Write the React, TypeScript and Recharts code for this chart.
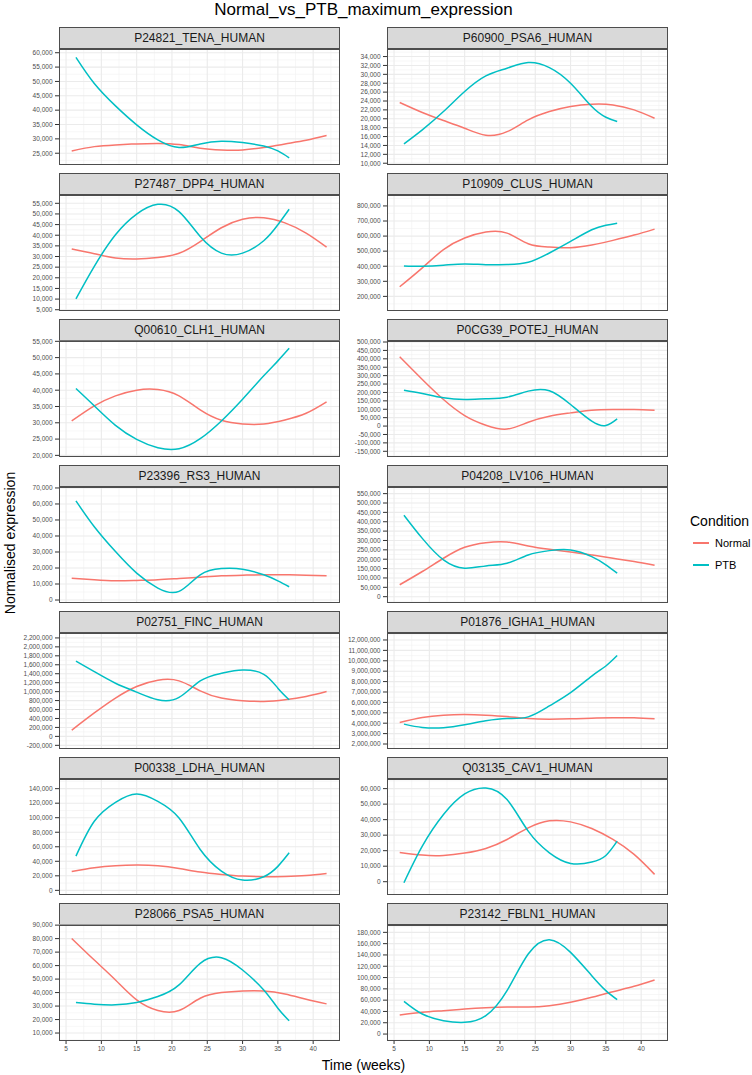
import React from 'react';
import { LineChart, Line, XAxis, YAxis, CartesianGrid } from 'recharts';

const NORMAL_COLOR = '#F8766D';
const PTB_COLOR = '#00BFC4';
const FONT = '"Liberation Sans", Arial, Helvetica, sans-serif';

// sampling weeks
const NORMAL_WEEKS = [5.8, 9, 12, 15, 18, 21, 24, 27, 30, 33, 36, 39, 41.9];
const PTB_WEEKS = [6.4, 9, 12, 15, 18, 21, 24, 27, 30, 33, 35, 36.6];
const X_TICKS = [5, 10, 15, 20, 25, 30, 35, 40];
const X_DOMAIN = [4.0, 43.8];

const TENA_NORMAL = [25800, 27300, 27900, 28250, 28400, 28000, 26750, 26150, 26150, 27000, 28250, 29500, 31150];
const TENA_PTB = [58400, 49300, 41500, 34900, 29650, 27000, 28250, 29200, 28700, 27550, 25800, 23400];
const TENA_TICKS = [25000, 30000, 35000, 40000, 45000, 50000, 55000, 60000];

const PSA6_NORMAL = [23650, 21400, 19600, 17875, 16300, 17100, 19750, 21625, 22750, 23275, 23125, 22000, 20125];
const PSA6_PTB = [14350, 17500, 21625, 26125, 29650, 31375, 32650, 31525, 28000, 22750, 20350, 19375];
const PSA6_TICKS = [10000, 12000, 14000, 16000, 18000, 20000, 22000, 24000, 26000, 28000, 30000, 32000, 34000];

const DPP4_NORMAL = [33500, 31300, 29300, 28800, 29500, 31500, 37000, 43500, 47500, 48200, 45800, 41000, 34400];
const DPP4_PTB = [10100, 25400, 40200, 49900, 54500, 51100, 39400, 31600, 31600, 37400, 44900, 52200];
const DPP4_TICKS = [5000, 10000, 15000, 20000, 25000, 30000, 35000, 40000, 45000, 50000, 55000];

const CLUS_NORMAL = [263700, 389000, 509900, 586800, 626400, 619800, 549500, 527500, 523000, 540700, 571400, 606600, 646200];
const CLUS_PTB = [402200, 400000, 406600, 415400, 410000, 411000, 426400, 487900, 564800, 641800, 672000, 685700];
const CLUS_TICKS = [200000, 300000, 400000, 500000, 600000, 700000, 800000];

const CLH1_NORMAL = [30565, 35200, 38260, 40010, 40200, 38260, 33950, 30770, 29640, 29640, 30870, 32920, 36420];
const CLH1_PTB = [40520, 35200, 29230, 24920, 22350, 22040, 25120, 30560, 37230, 44420, 49000, 52840];
const CLH1_TICKS = [20000, 25000, 30000, 35000, 40000, 45000, 50000, 55000];

const POTEJ_NORMAL = [412500, 277300, 158000, 62600, 5000, -18000, 22900, 58600, 78500, 94400, 98400, 98400, 94400];
const POTEJ_PTB = [213700, 193800, 168000, 158000, 162000, 172000, 207800, 210000, 128200, 28900, 3000, 42700];
const POTEJ_TICKS = [-150000, -100000, -50000, 0, 50000, 100000, 150000, 200000, 250000, 300000, 350000, 400000, 450000, 500000];

const RS3_NORMAL = [13670, 12640, 12000, 12220, 12640, 13470, 14300, 15120, 15540, 15750, 15750, 15540, 15120];
const RS3_PTB = [61920, 45770, 30240, 16780, 7460, 5390, 15740, 19680, 19270, 15740, 12000, 8290];
const RS3_TICKS = [0, 10000, 20000, 30000, 40000, 50000, 60000, 70000];

const LV106_NORMAL = [63600, 134400, 205100, 263500, 288200, 291800, 270600, 252900, 238700, 222800, 205100, 187400, 168000];
const LV106_PTB = [435000, 311200, 196300, 152000, 164400, 178600, 222800, 245800, 249300, 213900, 170000, 125500];
const LV106_TICKS = [0, 50000, 100000, 150000, 200000, 250000, 300000, 350000, 400000, 450000, 500000, 550000];

const FINC_NORMAL = [139400, 523500, 855800, 1114300, 1254600, 1239900, 1018300, 855800, 796700, 781900, 819000, 892800, 1003500];
const FINC_PTB = [1683000, 1446700, 1188200, 988800, 818900, 870700, 1239900, 1409800, 1483600, 1387600, 1077400, 818900];
const FINC_TICKS = [-200000, 0, 200000, 400000, 600000, 800000, 1000000, 1200000, 1400000, 1600000, 1800000, 2000000, 2200000];

const IGHA1_NORMAL = [4070000, 4550000, 4770000, 4830000, 4770000, 4640000, 4450000, 4390000, 4420000, 4480000, 4520000, 4520000, 4420000];
const IGHA1_PTB = [3910000, 3590000, 3560000, 3850000, 4230000, 4450000, 4610000, 5660000, 6940000, 8530000, 9500000, 10500000];
const IGHA1_TICKS = [2000000, 3000000, 4000000, 5000000, 6000000, 7000000, 8000000, 9000000, 10000000, 11000000, 12000000];

const LDHA_NORMAL = [26070, 31100, 33850, 34770, 33850, 30200, 25160, 21950, 19660, 18750, 19200, 20580, 23330];
const LDHA_PTB = [47100, 95160, 121240, 132680, 122600, 99730, 56270, 26530, 14170, 18750, 33000, 51700];
const LDHA_TICKS = [0, 20000, 40000, 60000, 80000, 100000, 120000, 140000];

const CAV1_NORMAL = [18860, 17150, 16930, 18430, 21430, 27220, 34720, 39220, 38570, 34290, 27220, 17570, 4720];
const CAV1_PTB = [-640, 22930, 43290, 56570, 60430, 52930, 32570, 18640, 11790, 12640, 16930, 26140];
const CAV1_TICKS = [0, 10000, 20000, 30000, 40000, 50000, 60000];

const PSA5_NORMAL = [80150, 64140, 49360, 34580, 26700, 26700, 35810, 40000, 41230, 41230, 39010, 35070, 31630];
const PSA5_PTB = [32610, 31380, 30890, 32610, 37040, 45670, 61670, 65860, 56750, 41970, 28420, 19060];
const PSA5_TICKS = [10000, 20000, 30000, 40000, 50000, 60000, 70000, 80000, 90000];

const FBLN1_NORMAL = [33690, 38410, 41360, 44310, 46670, 47850, 47850, 50210, 56110, 64960, 74990, 84430, 95630];
const FBLN1_PTB = [57870, 35450, 23660, 20710, 32510, 76700, 141650, 167020, 144600, 103300, 76770, 60830];
const FBLN1_TICKS = [0, 20000, 40000, 60000, 80000, 100000, 120000, 140000, 160000, 180000];

const PANELS = [
  { name: 'P24821_TENA_HUMAN', normal: TENA_NORMAL, ptb: TENA_PTB, ticks: TENA_TICKS, domain: [20900, 61300] },
  { name: 'P60900_PSA6_HUMAN', normal: PSA6_NORMAL, ptb: PSA6_PTB, ticks: PSA6_TICKS, domain: [9600, 35700] },
  { name: 'P27487_DPP4_HUMAN', normal: DPP4_NORMAL, ptb: DPP4_PTB, ticks: DPP4_TICKS, domain: [4400, 58900] },
  { name: 'P10909_CLUS_HUMAN', normal: CLUS_NORMAL, ptb: CLUS_PTB, ticks: CLUS_TICKS, domain: [103000, 872500] },
  { name: 'Q00610_CLH1_HUMAN', normal: CLH1_NORMAL, ptb: CLH1_PTB, ticks: CLH1_TICKS, domain: [19500, 55100] },
  { name: 'P0CG39_POTEJ_HUMAN', normal: POTEJ_NORMAL, ptb: POTEJ_PTB, ticks: POTEJ_TICKS, domain: [-184000, 506000] },
  { name: 'P23396_RS3_HUMAN', normal: RS3_NORMAL, ptb: RS3_PTB, ticks: RS3_TICKS, domain: [-1860, 70600] },
  { name: 'P04208_LV106_HUMAN', normal: LV106_NORMAL, ptb: LV106_PTB, ticks: LV106_TICKS, domain: [-33700, 585400] },
  { name: 'P02751_FINC_HUMAN', normal: FINC_NORMAL, ptb: FINC_PTB, ticks: FINC_TICKS, domain: [-282000, 2310000] },
  { name: 'P01876_IGHA1_HUMAN', normal: IGHA1_NORMAL, ptb: IGHA1_PTB, ticks: IGHA1_TICKS, domain: [1520000, 12670000] },
  { name: 'P00338_LDHA_HUMAN', normal: LDHA_NORMAL, ptb: LDHA_PTB, ticks: LDHA_TICKS, domain: [-6400, 153300] },
  { name: 'Q03135_CAV1_HUMAN', normal: CAV1_NORMAL, ptb: CAV1_PTB, ticks: CAV1_TICKS, domain: [-8570, 66200] },
  { name: 'P28066_PSA5_HUMAN', normal: PSA5_NORMAL, ptb: PSA5_PTB, ticks: PSA5_TICKS, domain: [4100, 90100] },
  { name: 'P23142_FBLN1_HUMAN', normal: FBLN1_NORMAL, ptb: FBLN1_PTB, ticks: FBLN1_TICKS, domain: [-12300, 193000] },
];

const PLOT_W = 281;
const PLOT_H = 116;
const ROW_STEP = 146;
const STRIP_H = 22;
const FIRST_PLOT_TOP = 49;
const PAD = 6; // room so edge tick labels are not clipped
const BORDER = '#4d4d4d';

const fmt = (v: number) => v.toLocaleString('en-US');

// minor grid sits halfway between major breaks
const minorOf = (ticks: number[], domain: number[]) => {
  const step = ticks[1] - ticks[0];
  const out: number[] = [];
  for (let v = ticks[0] - step / 2; v <= ticks[ticks.length - 1] + step / 2; v += step) {
    if (v > domain[0] && v < domain[1]) out.push(v);
  }
  return out;
};

const Panel = ({ p, idx }: { p: any; idx: number }) => {
  const col = idx % 2;
  const row = Math.floor(idx / 2);
  const plotLeft = col === 0 ? 59 : 387;
  const chartLeft = col === 0 ? 0 : 341;
  const yW = plotLeft - chartLeft;
  const plotTop = FIRST_PLOT_TOP + row * ROW_STEP;
  const showX = row === 6;
  const h = PLOT_H + PAD * 2 + (showX ? 16 : 0);
  const normalData = NORMAL_WEEKS.map((w, i) => ({ week: w, value: p.normal[i] }));
  const ptbData = PTB_WEEKS.map((w, i) => ({ week: w, value: p.ptb[i] }));

  return (
    <>
      <div
        style={{
          position: 'absolute',
          left: plotLeft,
          top: plotTop - STRIP_H,
          width: PLOT_W,
          height: STRIP_H,
          boxSizing: 'border-box',
          border: `1px solid ${BORDER}`,
          background: '#d9d9d9',
          color: '#1a1a1a',
          fontSize: 12,
          lineHeight: `${STRIP_H - 2}px`,
          textAlign: 'center',
        }}
      >
        {p.name}
      </div>
      <div style={{ position: 'absolute', left: chartLeft, top: plotTop - PAD }}>
        <LineChart width={yW + PLOT_W} height={h} margin={{ top: PAD, right: 0, bottom: PAD, left: 0 }}>
          <CartesianGrid
            stroke="#f2f2f2"
            strokeWidth={0.6}
            horizontalValues={minorOf(p.ticks, p.domain)}
            verticalValues={minorOf(X_TICKS, X_DOMAIN)}
          />
          <CartesianGrid
            stroke="#ebebeb"
            strokeWidth={1.1}
            horizontalValues={p.ticks}
            verticalValues={X_TICKS}
          />
          <XAxis
            dataKey="week"
            type="number"
            domain={X_DOMAIN}
            ticks={X_TICKS}
            interval={0}
            allowDataOverflow
            hide={!showX}
            height={16}
            axisLine={false}
            tickLine={{ stroke: '#333' }}
            tickSize={3}
            tickMargin={2}
            tick={{ fontSize: 6.5, fill: '#4d4d4d' }}
          />
          <YAxis
            type="number"
            domain={p.domain}
            ticks={p.ticks}
            interval={0}
            allowDataOverflow
            width={yW}
            axisLine={false}
            tickLine={{ stroke: '#333' }}
            tickSize={4}
            tickMargin={2.5}
            tickFormatter={fmt}
            tick={{ fontSize: 6.5, fill: '#4d4d4d' }}
          />
          <Line data={normalData} dataKey="value" type="natural" stroke={NORMAL_COLOR} strokeWidth={1.5} dot={false} isAnimationActive={false} />
          <Line data={ptbData} dataKey="value" type="natural" stroke={PTB_COLOR} strokeWidth={1.5} dot={false} isAnimationActive={false} />
        </LineChart>
      </div>
      <div
        style={{
          position: 'absolute',
          left: plotLeft,
          top: plotTop,
          width: PLOT_W,
          height: PLOT_H,
          boxSizing: 'border-box',
          border: `1px solid ${BORDER}`,
          pointerEvents: 'none',
        }}
      />
    </>
  );
};

export default function App() {
  return (
    <div
      style={{
        position: 'absolute',
        left: 0,
        top: 0,
        width: 752,
        height: 1075,
        background: '#fff',
        fontFamily: FONT,
        overflow: 'hidden',
      }}
    >
      <div style={{ position: 'absolute', left: 0, width: 727, top: 0, textAlign: 'center', fontSize: 17, lineHeight: '20px', color: '#000' }}>
        Normal_vs_PTB_maximum_expression
      </div>

      {PANELS.map((p, i) => (
        <Panel key={p.name} p={p} idx={i} />
      ))}

      <div
        style={{
          position: 'absolute',
          left: 10,
          top: 543,
          transform: 'translate(-50%, -50%) rotate(-90deg)',
          fontSize: 14,
          whiteSpace: 'nowrap',
          color: '#000',
        }}
      >
        Normalised expression
      </div>
      <div style={{ position: 'absolute', left: 59, width: 609, top: 1056, textAlign: 'center', fontSize: 14, lineHeight: '18px', color: '#000' }}>
        Time (weeks)
      </div>

      <div style={{ position: 'absolute', left: 690, top: 512, fontSize: 14, lineHeight: '18px', color: '#000' }}>Condition</div>
      {[
        { label: 'Normal', color: NORMAL_COLOR, y: 543 },
        { label: 'PTB', color: PTB_COLOR, y: 565 },
      ].map((k) => (
        <React.Fragment key={k.label}>
          <div style={{ position: 'absolute', left: 693, top: k.y - 1, width: 16, height: 1.6, background: k.color }} />
          <div style={{ position: 'absolute', left: 715, top: k.y - 7, fontSize: 11, lineHeight: '14px', color: '#000' }}>{k.label}</div>
        </React.Fragment>
      ))}
    </div>
  );
}
